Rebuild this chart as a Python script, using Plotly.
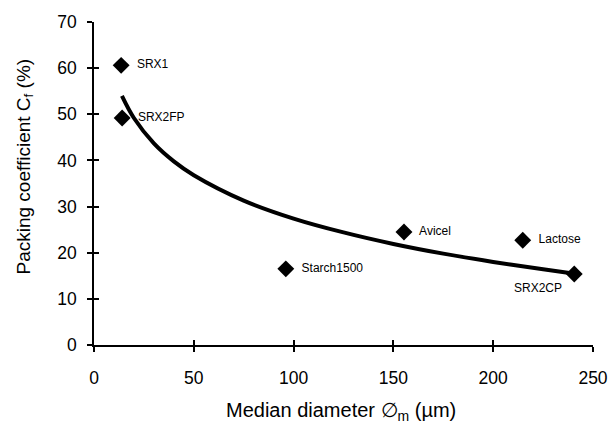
import plotly.graph_objects as go

# Measured samples
sample_names = ["SRX1", "SRX2FP", "Starch1500", "Avicel", "Lactose", "SRX2CP"]
median_diameter = [13.6, 14.1, 96.1, 155.3, 214.8, 240.6]
packing_coeff = [60.6, 49.2, 16.5, 24.5, 22.7, 15.4]
label_positions = ["middle right", "middle right", "middle right", "middle right", "middle right", "bottom left"]

# Trend curve
curve_x = [14, 20, 30, 40, 50, 75, 100, 125, 150, 175, 200, 225, 240]
curve_y = [54.0, 49.2, 43.7, 39.8, 36.8, 31.3, 27.4, 24.4, 21.9, 19.8, 18.0, 16.4, 15.5]

x_ticks = [0, 50, 100, 150, 200, 250]
y_ticks = [0, 10, 20, 30, 40, 50, 60, 70]

fig = go.Figure()
fig.add_trace(go.Scatter(x=curve_x, y=curve_y, mode="lines",
                         line=dict(color="black", width=4, shape="spline"),
                         showlegend=False, hoverinfo="skip"))
fig.add_trace(go.Scatter(x=median_diameter, y=packing_coeff, mode="markers+text",
                         marker=dict(symbol="diamond", size=13, color="black"),
                         text=["  " + n for n in sample_names[:5]] + [sample_names[5] + " "],
                         textposition=label_positions, cliponaxis=False,
                         textfont=dict(family="Liberation Sans, Arial", size=12, color="black"),
                         showlegend=False))

tick_font = dict(family="Liberation Sans, Arial", size=17.5, color="black")
fig.update_layout(
    width=611, height=426,
    margin=dict(l=94, r=18, t=22, b=81),
    paper_bgcolor="white", plot_bgcolor="white",
    xaxis=dict(range=[0, 250], tickvals=x_ticks, ticks="outside", ticklen=5, tickwidth=1.5,
               tickcolor="black", showline=True, linecolor="black", linewidth=1.5,
               showgrid=False, zeroline=False, tickfont=tick_font, ticklabelstandoff=11,
               automargin=False),
    yaxis=dict(range=[0, 70], tickvals=y_ticks, ticks="outside", ticklen=5, tickwidth=1.5,
               tickcolor="black", showline=True, linecolor="black", linewidth=1.5,
               showgrid=False, zeroline=False, tickfont=tick_font, ticklabelstandoff=7,
               automargin=False),
    xaxis2=dict(range=[0, 250], tickvals=x_ticks, ticks="inside", ticklen=5, tickwidth=1.5,
                tickcolor="black", showticklabels=False, showgrid=False, zeroline=False,
                overlaying="x", side="bottom", anchor="y"),
    yaxis2=dict(range=[0, 70], tickvals=y_ticks, ticks="inside", ticklen=5, tickwidth=1.5,
                tickcolor="black", showticklabels=False, showgrid=False, zeroline=False,
                overlaying="y", side="left", anchor="x"),
    annotations=[
        dict(text="Median diameter ∅<sub>m</sub> (µm)", xref="paper", yref="paper",
             x=0.5, y=-0.205, xshift=-3, xanchor="center", yanchor="middle", showarrow=False,
             font=dict(family="Liberation Sans, Arial", size=20, color="black")),
        dict(text="Packing coefficient C<sub>f</sub> (%)", xref="paper", yref="paper",
             x=0, y=0.5, xshift=-70, yshift=17, xanchor="center", yanchor="middle",
             textangle=-90, showarrow=False,
             font=dict(family="Liberation Sans, Arial", size=19, color="black")),
    ],
)
# dummy trace to activate the overlay axes
fig.add_trace(go.Scatter(x=[None], y=[None], xaxis="x2", yaxis="y2", showlegend=False, hoverinfo="skip"))

fig.write_html("out.html", config={"displayModeBar": False},
               post_script="document.body.style.margin='0px';")
